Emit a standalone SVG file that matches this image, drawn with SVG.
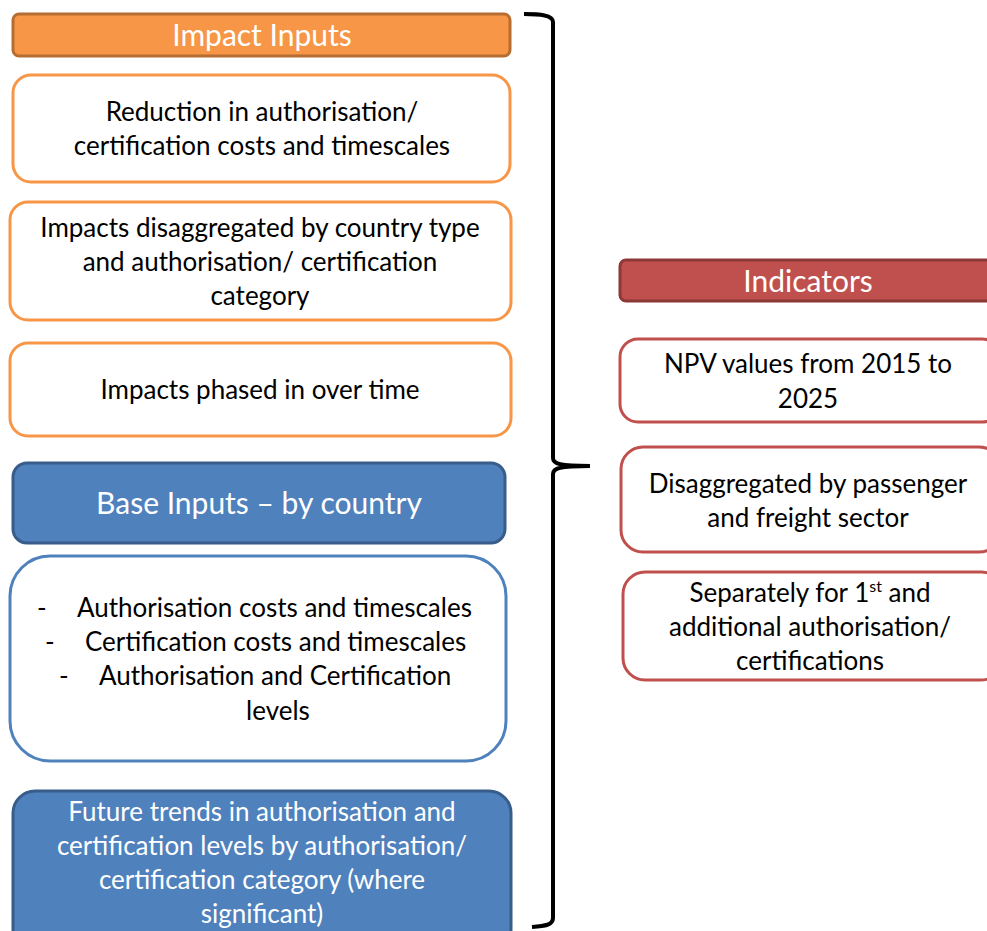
<svg xmlns="http://www.w3.org/2000/svg" width="987" height="931" viewBox="0 0 987 931">
<style>
text{font-family:Lato,"Open Sans","Liberation Sans",sans-serif;font-size:26px;fill:#000;text-anchor:middle}
.w{fill:#fff}
.h{font-size:30px}
.ohd{fill:#F79646;stroke:#B66D31;stroke-width:3}
.obx{fill:#fff;stroke:#F79646;stroke-width:3}
.bhd{fill:#4F81BD;stroke:#385D8A;stroke-width:3}
.bbx{fill:#fff;stroke:#4F81BD;stroke-width:3}
.rhd{fill:#C0504D;stroke:#8C3836;stroke-width:3}
.rbx{fill:#fff;stroke:#C0504D;stroke-width:3}
.l{text-anchor:start}
</style>
<rect width="987" height="931" fill="#fff"/>
<g id="impact-inputs"><rect class="ohd" x="13" y="14" width="497" height="42" rx="6"/><text class="w h" x="262" y="46">Impact Inputs</text></g>
<g id="reduction"><rect class="obx" x="13" y="75" width="497" height="107" rx="18"/><text x="262" y="121">Reduction in authorisation/</text><text x="262" y="155">certification costs and timescales</text></g>
<g id="disaggregated-impacts"><rect class="obx" x="10" y="202" width="501" height="118" rx="18"/><text x="260" y="237">Impacts disaggregated by country type</text><text x="260" y="271">and authorisation/ certification</text><text x="260" y="305">category</text></g>
<g id="phased"><rect class="obx" x="10" y="343" width="501" height="93" rx="18"/><text x="260" y="399">Impacts phased in over time</text></g>
<g id="base-inputs"><rect class="bhd" x="13" y="463" width="492" height="80" rx="14"/><text class="w h" x="259" y="514">Base Inputs – by country</text></g>
<g id="base-list"><rect class="bbx" x="10" y="556" width="496" height="205" rx="40"/>
<text class="l" x="37" y="617">-</text><text class="l" x="77" y="617">Authorisation costs and timescales</text>
<text class="l" x="45" y="651">-</text><text class="l" x="85" y="651">Certification costs and timescales</text>
<text class="l" x="59" y="685">-</text><text class="l" x="99" y="685">Authorisation and Certification</text>
<text x="278" y="720">levels</text></g>
<g id="future-trends"><rect class="bhd" x="13" y="791" width="498" height="160" rx="22"/><text class="w" x="262" y="821">Future trends in authorisation and</text><text class="w" x="262" y="855">certification levels by authorisation/</text><text class="w" x="262" y="889">certification category (where</text><text class="w" x="262" y="923">significant)</text></g>
<g id="indicators"><rect class="rhd" x="620" y="260" width="380" height="41" rx="6"/><text class="w h" x="808" y="292">Indicators</text></g>
<g id="npv"><rect class="rbx" x="620" y="339" width="380" height="83" rx="18"/><text x="808" y="373">NPV values from 2015 to</text><text x="808" y="408">2025</text></g>
<g id="sector"><rect class="rbx" x="621" y="447" width="380" height="105" rx="22"/><text x="808" y="493">Disaggregated by passenger</text><text x="808" y="527">and freight  sector</text></g>
<g id="separately"><rect class="rbx" x="623" y="572" width="380" height="108" rx="22"/><text x="810" y="602">Separately for 1<tspan font-size="16" dy="-10">st</tspan><tspan dy="10"> and</tspan></text><text x="810" y="636">additional authorisation/</text><text x="810" y="670">certifications</text></g>
<g id="connectors"><path d="M524,14 C540,14 553,15 553,22 L553,458 C553,464 560,466 590,466 C560,466 553,468 553,474 L553,918 C553,925 545,926 532,927" fill="none" stroke="#000" stroke-width="4"/></g>
</svg>
